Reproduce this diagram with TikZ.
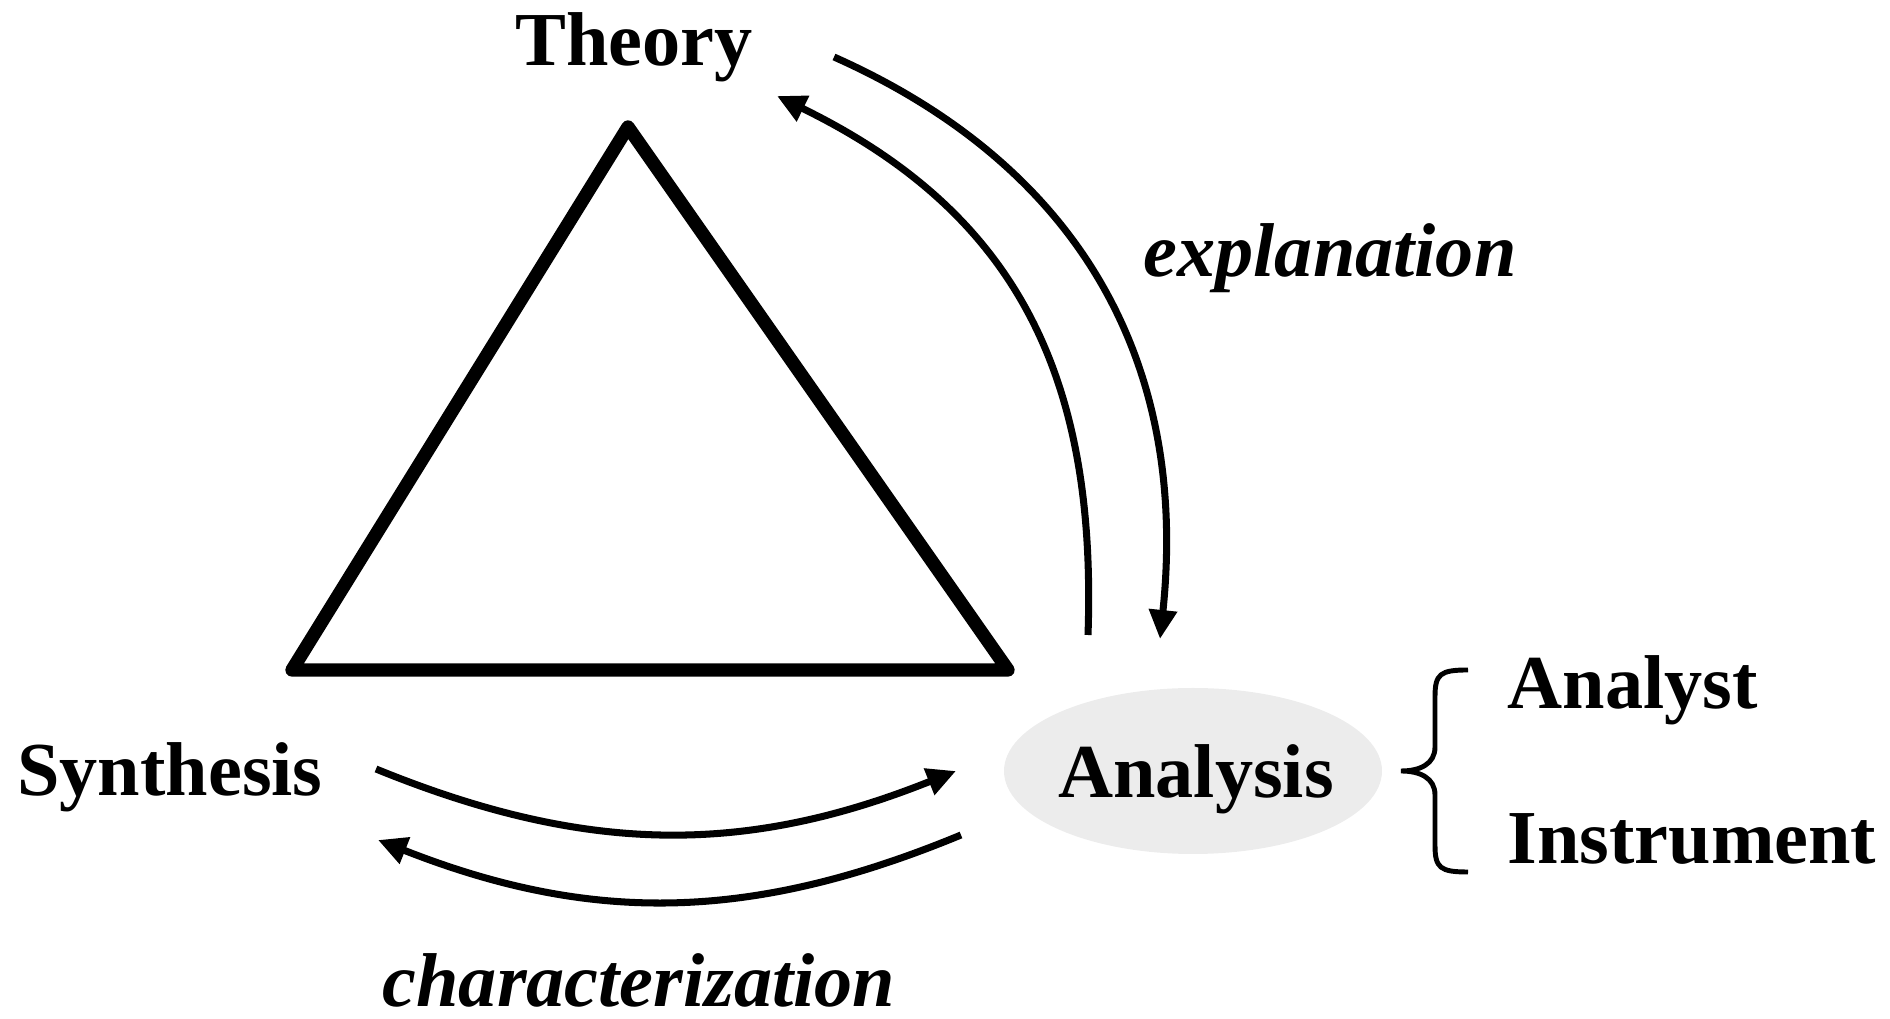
\documentclass[tikz,border=0pt]{standalone}
\usepackage{fontspec}
\setmainfont{Liberation Serif}
\usetikzlibrary{arrows.meta, shapes.geometric}
\definecolor{grisclaro}{RGB}{236,236,236}

\begin{document}
\begin{tikzpicture}[every node/.style={font=\fontsize{21.7}{26}\selectfont\bfseries, inner sep=0pt},
  etiqueta/.style={font=\fontsize{21.7}{26}\selectfont\bfseries\itshape},
  flecha/.style={line width=2pt, -{Triangle[length=0.29cm, width=0.27cm]}}]
  \useasboundingbox (0,0) rectangle (18.9,10.19);

  % Triangulo
  \coordinate (t1) at (6.28,8.92);
  \coordinate (t2) at (2.92,3.49);
  \coordinate (t3) at (10.08,3.49);
  \draw[line width=3.8pt, line join=round] (t1) -- (t2) -- (t3) -- cycle;

  % Vertices
  \node (teo) at (6.34,9.53) [anchor=base] {Theory};
  \node (sin) at (1.70,2.23) [anchor=base] {Synthesis};
  \node (elip) at (11.93,2.48) [ellipse, fill=grisclaro, minimum width=3.78cm, minimum height=1.66cm] {};
  \node (ana) at (11.96,2.21) [anchor=base] {Analysis};

  % Llave
  \draw[line width=1.4pt] (14.68,3.49) .. controls (14.40,3.49) and (14.35,3.45) .. (14.35,3.22)
    -- (14.35,2.72) .. controls (14.35,2.55) and (14.20,2.48) .. (14.01,2.48)
    .. controls (14.20,2.48) and (14.35,2.41) .. (14.35,2.24)
    -- (14.35,1.74) .. controls (14.35,1.51) and (14.40,1.47) .. (14.68,1.47);
  \node (ast) at (15.07,3.10) [anchor=base west] {Analyst};
  \node (ins) at (15.07,1.55) [anchor=base west] {Instrument};

  % Flechas
  \coordinate (e1) at (8.34,9.62);
  \coordinate (e2) at (11.60,3.80);
  \coordinate (i1) at (10.88,3.84);
  \coordinate (i2) at (7.77,9.23);
  \coordinate (s1) at (3.76,2.50);
  \coordinate (s2) at (9.56,2.48);
  \coordinate (c1) at (9.61,1.84);
  \coordinate (c2) at (3.78,1.79);
  \draw[flecha] (e1) to[out=-24, in=84, looseness=1.05] (e2);
  \draw[flecha] (i1) to[out=88, in=-26, looseness=1.08] (i2);
  \draw[flecha] (s1) to[bend right=22] (s2);
  \draw[flecha] (c1) to[bend left=22] (c2);

  % Etiquetas
  \node[etiqueta, anchor=base] (expl) at (13.30,7.42) {explanation};
  \node[etiqueta, anchor=base] (carac) at (6.39,0.12) {characterization};
\end{tikzpicture}
\end{document}
